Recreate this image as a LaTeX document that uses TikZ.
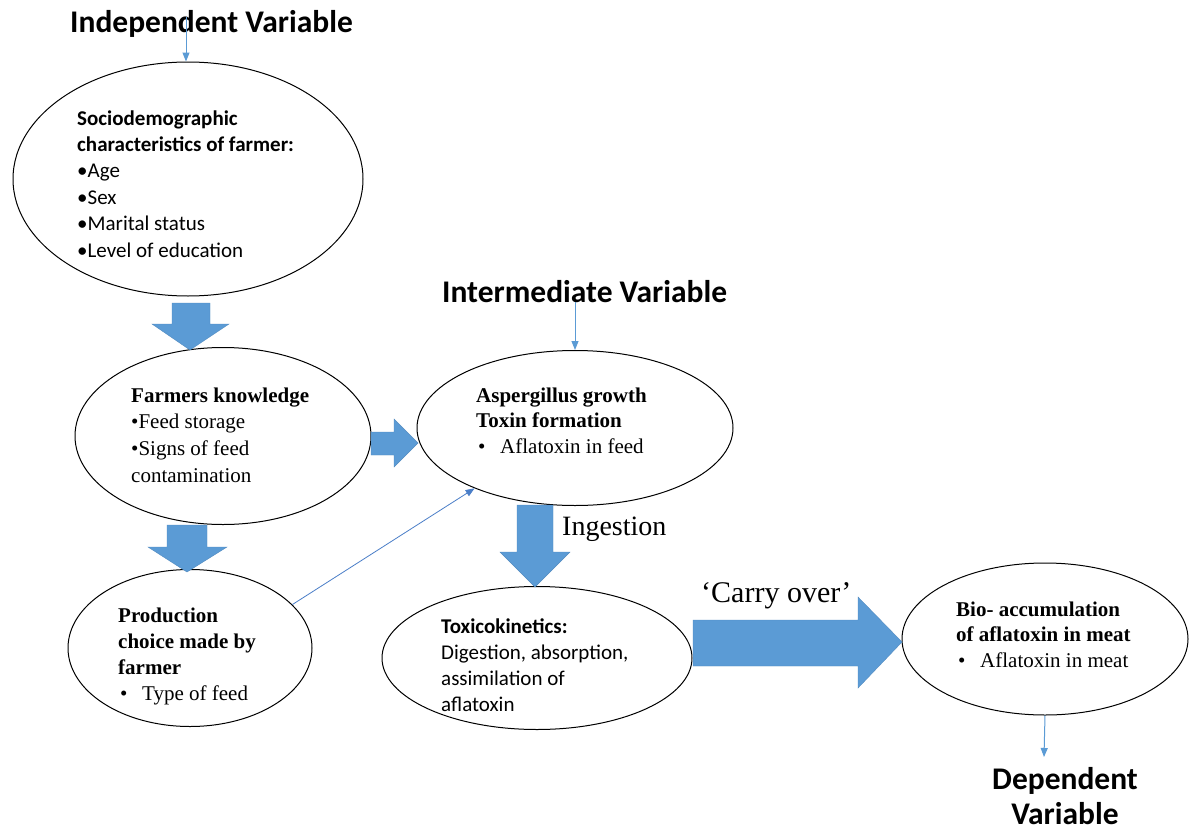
\documentclass[tikz,border=0pt]{standalone}
\usepackage{fontspec}
\setmainfont{Liberation Serif}
\newfontfamily\calib{Carlito}
\usetikzlibrary{arrows.meta,shapes.geometric}
\definecolor{blk}{HTML}{5B9BD5}
\definecolor{thinblue}{HTML}{5B9BD5}
\definecolor{diagblue}{HTML}{4A7EC8}
\begin{document}
\begin{tikzpicture}[x=1pt,y=-1pt,
  ell/.style={ellipse, draw=black, line width=1pt, inner sep=0pt},
  txt/.style={anchor=base west, inner sep=0pt},
  thinarr/.style={draw=thinblue, line width=1pt, -{Triangle[length=9pt,width=7pt]}},
  blockarr/.style={fill=blk, draw=blk!90!black, line width=0.4pt},
  ttl/.style={font=\calib\bfseries\fontsize{31.5}{35}\selectfont, inner sep=0pt}]
\fill[white] (0,0) rectangle (1189,835);
\useasboundingbox (0,0) rectangle (1189,835);

% ellipses
\node[ell, minimum width=350, minimum height=234] (e1) at (188,179) {};
\node[ell, minimum width=296, minimum height=177] (e2) at (223,436) {};
\node[ell, minimum width=244, minimum height=157] (e3) at (190,648) {};
\node[ell, minimum width=316, minimum height=155] (e4) at (575,428) {};
\node[ell, minimum width=310, minimum height=143] (e5) at (537,658) {};
\node[ell, minimum width=286, minimum height=152] (e6) at (1045,639) {};

% titles
\node[ttl, anchor=base west] (ivt) at (70,32) {Independent Variable};
\node[ttl, anchor=base west] (mvt) at (442,302) {Intermediate Variable};
\node[ttl, anchor=base] (dvt) at (1065,789) {\vtop{\hbox to 0pt{\hss Dependent\hss}\hbox to 0pt{\hss Variable\hss}}};

% texts
\node[txt] (t1) at (77,125) {\calib\fontsize{21}{26.4}\selectfont\vtop{\hbox{\bfseries Sociodemographic}\hbox{\bfseries characteristics of farmer:}\hbox{•Age}\hbox{•Sex}\hbox{•Marital status}\hbox{•Level of education}}};
\node[txt] (t2) at (131,402) {\fontsize{21}{26.7}\selectfont\vtop{\hbox{\bfseries Farmers knowledge}\hbox{•Feed storage}\hbox{•Signs of feed}\hbox{contamination}}};
\node[txt] (t3) at (118,622) {\fontsize{21}{26}\selectfont\vtop{\hbox{\bfseries Production}\hbox{\bfseries choice made by}\hbox{\bfseries farmer}\hbox{\hbox to 24pt{\hskip2pt •\hss}Type of feed}}};
\node[txt] (t4) at (476,402) {\fontsize{21}{25.5}\selectfont\vtop{\hbox{\bfseries Aspergillus growth}\hbox{\bfseries Toxin formation}\hbox{\hbox to 24pt{\hskip2pt •\hss}Aflatoxin in feed}}};
\node[txt] (t5) at (441,633) {\calib\fontsize{21}{26.3}\selectfont\vtop{\hbox{\bfseries Toxicokinetics:}\hbox{Digestion, absorption,}\hbox{assimilation of}\hbox{aflatoxin}}};
\node[txt] (t6) at (956,616) {\fontsize{21}{25.5}\selectfont\vtop{\hbox{\bfseries Bio- accumulation}\hbox{\bfseries of aflatoxin in meat}\hbox{\hbox to 24pt{\hskip2pt •\hss}Aflatoxin in meat}}};

\node[txt, font=\fontsize{28}{32}\selectfont] (ing) at (562,535) {Ingestion};
\node[txt, font=\fontsize{30}{34}\selectfont] (co) at (701,602) {‘Carry over’};

% block arrows
\fill[blockarr] (172,303) -- (210,303) -- (210,324) -- (229,324) -- (190,350) -- (152,324) -- (172,324) -- cycle;
\fill[blockarr] (167,525) -- (207,525) -- (207,547) -- (227,547) -- (187,572) -- (148,547) -- (167,547) -- cycle;
\fill[blockarr] (371,432) -- (394,432) -- (394,419) -- (418,443) -- (394,467) -- (394,455) -- (371,455) -- cycle;
\fill[blockarr] (517,505) -- (553,505) -- (553,552) -- (570,552) -- (535,587) -- (500,552) -- (517,552) -- cycle;
\fill[blockarr] (693,620) -- (858,620) -- (858,597) -- (902,642) -- (858,688) -- (858,666) -- (693,666) -- cycle;

% thin arrows
\coordinate (a1s) at (186,17);
\draw[thinarr] (a1s) -- (a1s |- e1.north);
\draw[thinarr] (mvt.south -| e4.north) -- (e4.north);
\coordinate (dvtop) at (1044,757);
\draw[thinarr] (e6.south) -- (dvtop);
\draw[thinarr, draw=diagblue, line width=0.8pt] (e3.23) -- (e4.211);
\end{tikzpicture}
\end{document}
